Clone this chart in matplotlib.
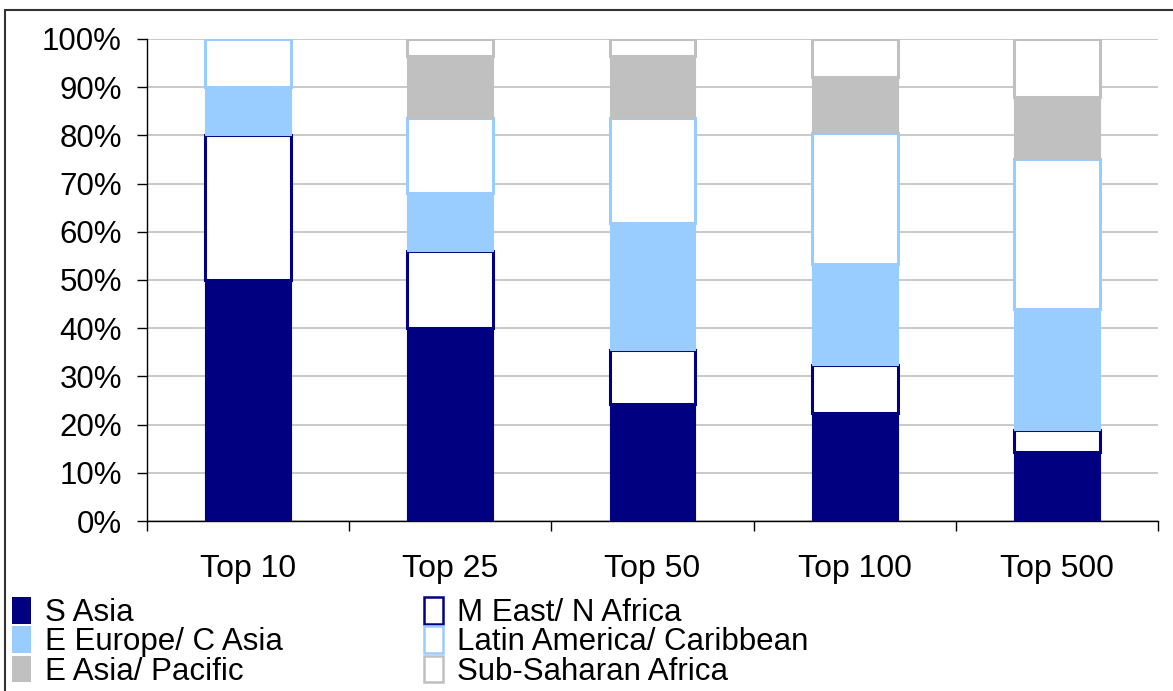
import numpy as np
import matplotlib.pyplot as plt
from matplotlib.patches import Patch, Rectangle

plt.rcParams['font.family'] = ['Liberation Sans', 'DejaVu Sans']

# --- DATA (share of each group, %) ---
CATEGORIES = ['Top 10', 'Top 25', 'Top 50', 'Top 100', 'Top 500']
S_ASIA = [50.0, 40.0, 24.3, 22.4, 14.3]
ME_N_AFRICA = [30.0, 16.0, 11.2, 10.0, 4.6]
E_EUROPE_C_ASIA = [10.0, 12.0, 26.3, 20.9, 25.1]
LATIN_AMERICA = [10.0, 15.6, 21.8, 27.2, 31.1]
E_ASIA_PACIFIC = [0.0, 12.9, 12.9, 11.6, 12.9]
SUB_SAHARAN = [0.0, 3.5, 3.5, 7.9, 12.0]
Y_TICKS = [0, 10, 20, 30, 40, 50, 60, 70, 80, 90, 100]

NAVY = '#000080'
LIGHT_BLUE = '#99ccff'
GREY = '#c0c0c0'

# (label, values, face, edge) from bottom of the stack to the top
series = [
    ('S Asia', S_ASIA, NAVY, NAVY),
    ('M East/ N Africa', ME_N_AFRICA, 'white', NAVY),
    ('E Europe/ C Asia', E_EUROPE_C_ASIA, LIGHT_BLUE, LIGHT_BLUE),
    ('Latin America/ Caribbean', LATIN_AMERICA, 'white', LIGHT_BLUE),
    ('E Asia/ Pacific', E_ASIA_PACIFIC, GREY, GREY),
    ('Sub-Saharan Africa', SUB_SAHARAN, 'white', GREY),
]

fig = plt.figure(figsize=(11.73, 6.91), dpi=100)
ax = fig.add_axes([0.1253, 0.2460, 0.8619, 0.6976])

x = np.arange(len(CATEGORIES))
bottom = np.zeros(len(CATEGORIES))
handles = {}
for label, vals, face, edge in series:
    vals = np.array(vals)
    lw = 0.8 if face != 'white' else 2.2
    edges = [edge if v > 0 else 'none' for v in vals]
    ax.bar(x, vals, bottom=bottom, width=0.425, color=face,
           edgecolor=edges, linewidth=lw, zorder=3)
    bottom += vals
    handles[label] = Patch(facecolor=face, edgecolor=edge,
                           linewidth=1.8 if face == 'white' else 0)

ax.set_xlim(-0.5, len(CATEGORIES) - 0.5)
ax.set_ylim(0, 100)
ax.set_yticks(Y_TICKS)
ax.set_yticklabels([f'{t}%' for t in Y_TICKS])
ax.set_xticks(x)
ax.set_xticklabels(CATEGORIES)
ax.set_xticks(np.arange(-0.5, len(CATEGORIES)), minor=True)

ax.grid(axis='y', color='#c0c0c0', linewidth=1.2, zorder=0)
for side in ('top', 'right'):
    ax.spines[side].set_visible(False)
for side in ('left', 'bottom'):
    ax.spines[side].set_color('black')
    ax.spines[side].set_linewidth(1.0)

ax.tick_params(axis='y', length=7, width=1, labelsize=22.5, pad=11)
ax.tick_params(axis='x', which='major', length=0, labelsize=23, pad=24)
ax.tick_params(axis='x', which='minor', length=7, width=1)

# two-column legend below the plot
left_col = ['S Asia', 'E Europe/ C Asia', 'E Asia/ Pacific']
right_col = ['M East/ N Africa', 'Latin America/ Caribbean', 'Sub-Saharan Africa']
for labels, xpos in ((left_col, -0.011), (right_col, 0.340)):
    fig.legend([handles[l] for l in labels], labels, loc='lower left',
               bbox_to_anchor=(xpos, -0.030), frameon=False, fontsize=22.5,
               handlelength=0.6, handleheight=0.95, handletextpad=0.45,
               labelspacing=-0.06, borderpad=0.3)

# outer frame of the chart area
fig.patches.append(Rectangle((5 / 1173, -0.1), 1.2, 1.1 - 10 / 691,
                             transform=fig.transFigure, fill=False,
                             edgecolor='#333333', linewidth=1.5))

fig.savefig('out.png', dpi=100)
